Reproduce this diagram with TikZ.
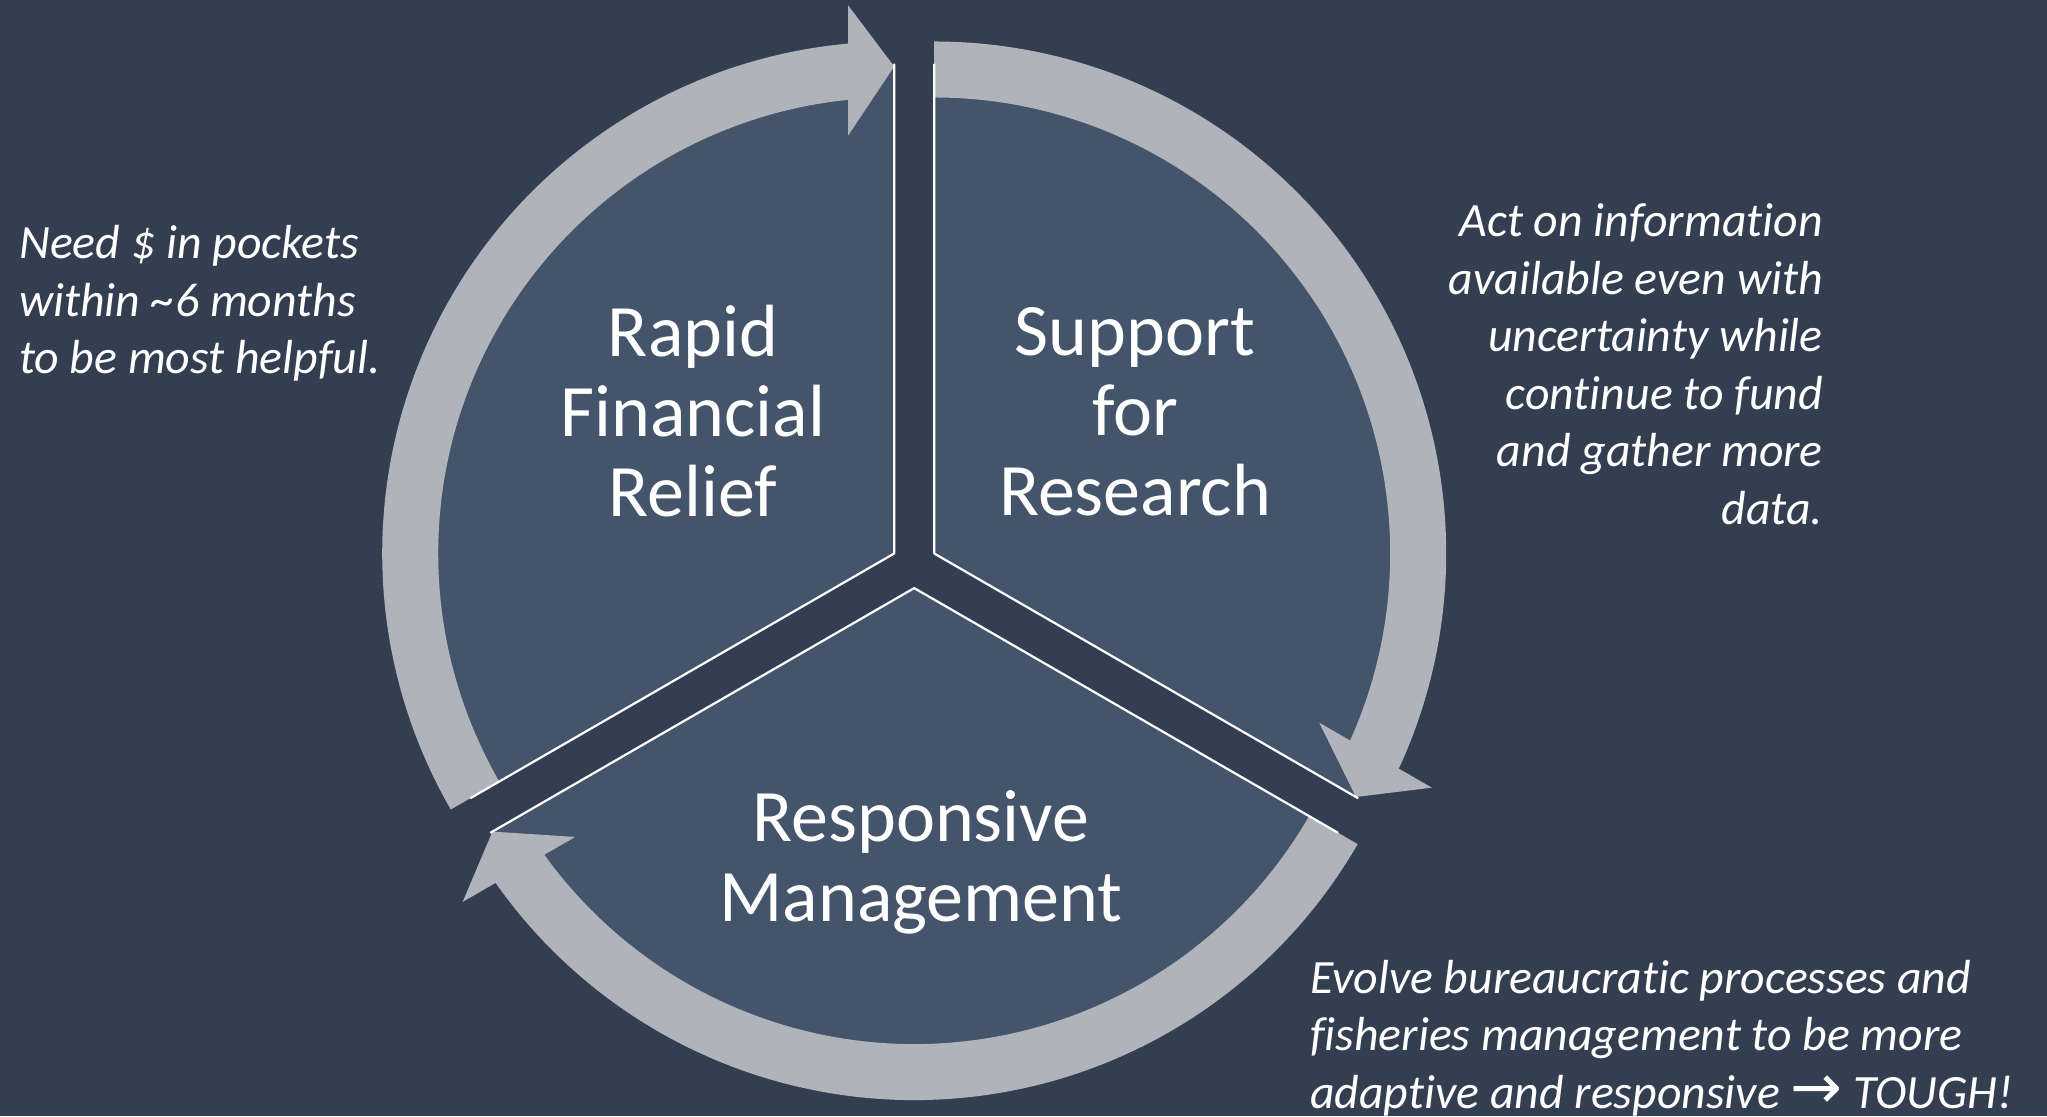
\documentclass[tikz,border=0pt]{standalone}
\usepackage{fontspec}
\setmainfont{Carlito}[Ligatures={NoCommon}]
\newfontfamily\arrowfont{DejaVu Sans}
\usetikzlibrary{calc}
\definecolor{bgc}{HTML}{333F50}
\definecolor{piec}{HTML}{44546A}
\definecolor{bandc}{HTML}{B0B3BA}
\tikzset{
  piefill/.style={fill=piec},
  bandfill/.style={fill=bandc},
  pieedge/.style={draw=white, line width=2.2pt, line join=round, line cap=round},
  mainlbl/.style={text=white, inner sep=0pt, font=\fontsize{74}{80}\selectfont},
  sidelbl/.style={text=white, inner sep=0pt, font=\itshape\fontsize{47.8}{57.5}\selectfont}
}
\newcommand\cyclearrow[2]{%
  \begin{scope}[shift={(#1)}, rotate=#2]
    \fill[bandfill] (210:512) arc[start angle=210, end angle=95.155, radius=512]
      -- (-46,548) -- (0,487) -- (-46,418) -- (95.79:456)
      arc[start angle=95.79, end angle=210, radius=456] -- cycle;
  \end{scope}}
\begin{document}
\begin{tikzpicture}[x=1pt, y=1pt]
\useasboundingbox (0,0) rectangle (2047,1116);
\fill[bgc] (0,0) rectangle (2047,1116);
% pie vertices
\coordinate (VL) at (894.2,562.5);
\coordinate (VR) at (934.2,562.5);
\coordinate (VB) at (914.2,527.9);
% pie fills
\fill[piefill] (VL) -- ++(90:489) arc[start angle=90, end angle=210, radius=489] -- cycle;
\fill[piefill] (VR) -- ++(-30:489) arc[start angle=-30, end angle=90, radius=489] -- cycle;
\fill[piefill] (VB) -- ++(210:489) arc[start angle=210, end angle=330, radius=489] -- cycle;
% circular arrows
\cyclearrow{VL}{0}
\cyclearrow{VR}{-120}
\cyclearrow{VB}{120}
% white straight edges of the pies
\draw[pieedge] ($(VL)+(90:489)$) -- (VL) -- ($(VL)+(210:489)$);
\draw[pieedge] ($(VR)+(90:489)$) -- (VR) -- ($(VR)+(-30:489)$);
\draw[pieedge] ($(VB)+(210:489)$) -- (VB) -- ($(VB)+(330:489)$);
% main labels
\node[mainlbl, anchor=base] (rapid) at (693,759.3)
  {\begin{tabular}[t]{@{}c@{}}Rapid\\Financial\\Relief\end{tabular}};
\node[mainlbl, anchor=base] (support) at (1135,760.5)
  {\begin{tabular}[t]{@{}c@{}}Support\\for\\Research\end{tabular}};
\node[mainlbl, anchor=base] (responsive) at (921,274.3)
  {\begin{tabular}[t]{@{}c@{}}Responsive\\Management\end{tabular}};
% side notes
\node[sidelbl, anchor=base west] (need) at (19,857)
  {\begin{tabular}[t]{@{}l@{}}Need \$ in pockets\\within \textasciitilde6 months\\to be most helpful.\end{tabular}};
\node[sidelbl, anchor=base east] (act) at (1823,879.3)
  {\begin{tabular}[t]{@{}r@{}}Act on information\\available even with\\uncertainty while\\continue to fund\\and gather more\\data.\end{tabular}};
\node[sidelbl, anchor=base west] (evolve) at (1310,122.7)
  {\begin{tabular}[t]{@{}l@{}}Evolve bureaucratic processes and\\fisheries management to be more\\adaptive and responsive {\upshape\arrowfont\fontsize{62}{57.5}\selectfont →} TOUGH!\end{tabular}};
\end{tikzpicture}
\end{document}
